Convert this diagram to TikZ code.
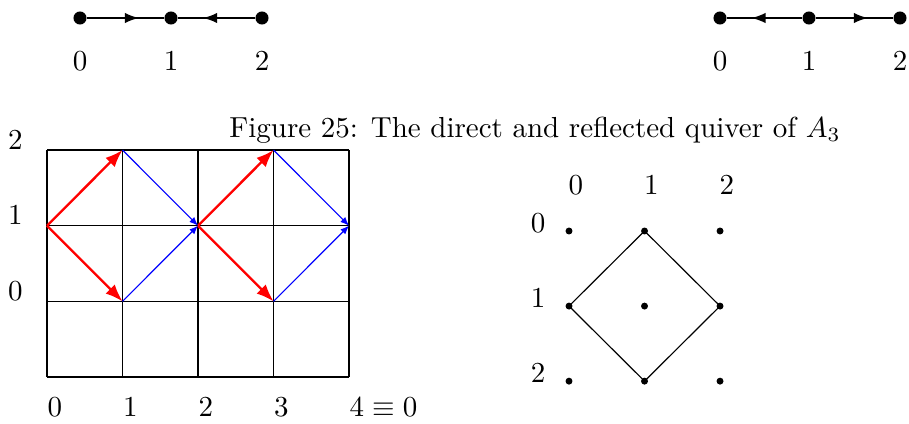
\documentclass[tikz,border=0pt]{standalone}
\usepackage{amsmath,amssymb}
\usetikzlibrary{arrows.meta, decorations.markings}

\begin{document}
\begin{tikzpicture}[
    x=0.345pt, y=-0.345pt,
    vertex/.style = {circle, fill=black, inner sep=0pt, minimum size=4.5pt},
    point/.style = {circle, fill=black, inner sep=0pt, minimum size=2.4pt},
    quiverarrow/.style = {thick, postaction={decorate}, decoration={markings, mark=at position 0.68 with {\arrow{Latex[length=5pt,width=3.6pt]}}}},
    redarrow/.style = {red, thick, -{Latex[length=6pt,width=4.5pt]}},
    bluearrow/.style = {blue, -{Latex[length=3pt,width=2.4pt]}}
]
\useasboundingbox (0,0) rectangle (909,423);

% direct quiver
\node [vertex] (a0) at (80,18) {};
\node [vertex] (a1) at (171,18) {};
\node [vertex] (a2) at (262,18) {};
\node (la0) at (80,61) {$0$};
\node (la1) at (171,61) {$1$};
\node (la2) at (262,61) {$2$};
\draw [quiverarrow] (a0) -- (a1);
\draw [quiverarrow] (a2) -- (a1);

% reflected quiver
\node [vertex] (b0) at (720,18) {};
\node [vertex] (b1) at (809,18) {};
\node [vertex] (b2) at (900,18) {};
\node (lb0) at (720,61) {$0$};
\node (lb1) at (809,61) {$1$};
\node (lb2) at (900,61) {$2$};
\draw [quiverarrow] (b1) -- (b0);
\draw [quiverarrow] (b1) -- (b2);

\node (caption) at (535,130) {Figure 25: The direct and reflected quiver of $A_3$};

% grid with the walk
\begin{scope}[shift={(47,377)}, x=26.05pt, y=26.1pt]
    \foreach \i in {0,...,4}
        \draw (\i,0) -- (\i,3);
    \foreach \j in {0,...,3}
        \draw (0,\j) -- (4,\j);
    \foreach \k in {0,1,2}
        \node [anchor=base, inner sep=0pt] at (-0.42,{\k+1.01}) {$\k$};
    \foreach \k in {0,...,3}
        \node [anchor=west, inner sep=0pt] at (\k,-0.4) {$\k$};
    \node [anchor=west, inner sep=0pt] at (4,-0.4) {$4\equiv 0$};
    \coordinate (m0) at (0,2);
    \coordinate (t1) at (1,3);
    \coordinate (b1) at (1,1);
    \coordinate (m2) at (2,2);
    \coordinate (t3) at (3,3);
    \coordinate (b3) at (3,1);
    \coordinate (m4) at (4,2);
    \draw [redarrow] (m0) -- (t1);
    \draw [redarrow] (m0) -- (b1);
    \draw [redarrow] (m2) -- (t3);
    \draw [redarrow] (m2) -- (b3);
    \draw [bluearrow] (t1) -- (m2);
    \draw [bluearrow] (b1) -- (m2);
    \draw [bluearrow] (t3) -- (m4);
    \draw [bluearrow] (b3) -- (m4);
\end{scope}

% points with the diamond
\begin{scope}[shift={(569,231)}, x=26.05pt, y=-25.9pt]
    \foreach \r in {0,1,2}
        \foreach \c in {0,1,2}
            \node [point] (d\r\c) at (\c,\r) {};
    \foreach \c in {0,1,2}
        \node at ({\c+0.09},-0.61) {$\c$};
    \foreach \r in {0,1,2}
        \node at (-0.41,{\r-0.1}) {$\r$};
    \draw (d01.center) -- (d12.center) -- (d21.center) -- (d10.center) -- cycle;
\end{scope}
\end{tikzpicture}
\end{document}
